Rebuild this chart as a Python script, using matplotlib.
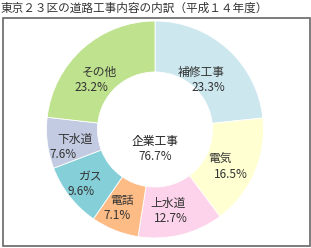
import numpy as np
import matplotlib
matplotlib.use('Agg')
from matplotlib import pyplot as plt
from matplotlib.patches import Rectangle

plt.rcParams['font.family'] = ['Noto Sans CJK JP', 'DejaVu Sans']

# data
names = ['補修工事', '電気', '上水道', '電話', 'ガス', '下水道', 'その他']
shares = [23.3, 16.5, 12.7, 7.1, 9.6, 7.6, 23.2]
colors = ['#cde7ef', '#ffffd2', '#fcd3ea', '#fdbb86', '#85cfd8', '#c3cbe2', '#bfe28e']
title = '東京２３区の道路工事内容の内訳（平成１４年度）'
center_name = '企業工事'
center_value = 76.7

W, H = 311, 248
fig = plt.figure(figsize=(W/100, H/100), dpi=100)
ax = fig.add_axes([0, 0, 1, 1])

cx, cy, R = 155, H - 129.5, 108.5
wedges, _ = ax.pie(shares, colors=colors, startangle=90, counterclock=False,
                   center=(cx, cy), radius=R, frame=True,
                   wedgeprops=dict(width=R*0.47, edgecolor='white', linewidth=0.6))
ax.set_xlim(0, W)
ax.set_ylim(0, H)
ax.set_aspect('equal')
ax.axis('off')

# slice labels: name on the anchor, percent one line below, shifted outward
ang = 90.0
for n, s in zip(names, shares):
    mid = np.deg2rad(ang - s*3.6/2)
    ang -= s*3.6
    r = 76
    x = cx - 5 + r*np.cos(mid)
    y = cy + r*np.sin(mid)
    ax.text(x, y, n, ha='center', va='center', fontsize=8.5, color='#333333')
    ax.text(x + 12*np.cos(mid), y - 15, '%.1f%%' % s, ha='center', va='center',
            fontsize=8.5, color='#333333')

ax.text(cx, H - 142, center_name, ha='center', va='center', fontsize=8.5, color='#222222')
ax.text(cx, H - 156, '%.1f%%' % center_value, ha='center', va='center', fontsize=8.5, color='#333333')

# frame and title
ax.add_patch(Rectangle((2.5, H - 245.5), 307, 228, fill=False, edgecolor='#666666', linewidth=1.2))
ax.text(1, H - 8, title, ha='left', va='center', fontsize=8.4, color='#333333')

fig.savefig('out.png', dpi=100)
